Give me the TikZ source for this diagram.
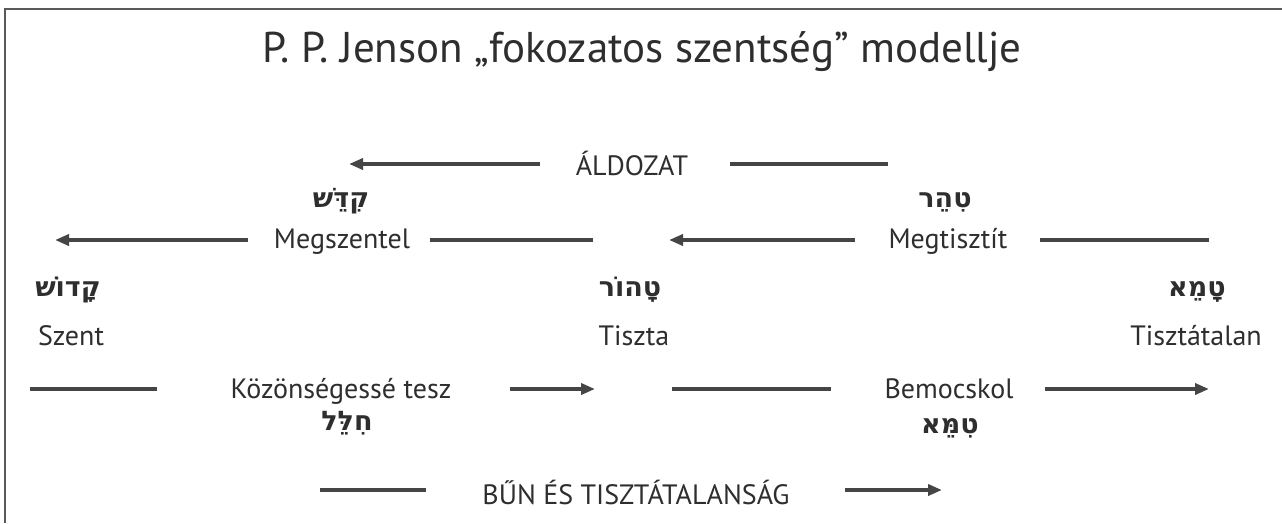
\documentclass[tikz,border=0pt]{standalone}
\usepackage{fontspec}
\setmainfont{PT Sans}
\newfontfamily\hebfont[Script=Hebrew]{DejaVu Sans Bold}
\TeXXeTstate=1
\usetikzlibrary{arrows.meta}
\definecolor{ink}{HTML}{2E2E2E}
\definecolor{linec}{HTML}{454545}
\tikzset{
  lbl/.style={inner sep=0pt, text=ink, font=\fontsize{28}{32}\selectfont, anchor=base},
  heb/.style={inner sep=0pt, text=ink, font=\hebfont\fontsize{27}{30}\selectfont, anchor=base},
  bar/.style={draw=linec, line width=3.6pt},
  arr/.style={bar, -{Triangle[length=14pt,width=11pt]}},
}
\begin{document}
\begin{tikzpicture}[x=1pt,y=-1pt]
\useasboundingbox (0,0) rectangle (1282,523);
\fill[white] (0,0) rectangle (1282,523);
% frame
\draw[draw=gray!70!black, line width=2.2pt] (5,523) -- (5,9) -- (1282,9);
% title
\node[lbl, font=\fontsize{43}{48}\selectfont] (title) at (642,62) {P. P. Jenson „fokozatos szentség” modellje};
% row 1
\node[lbl] (aldozat) at (632,175) {ÁLDOZAT};
\coordinate (a1s) at (540,164); \coordinate (a1e) at (349,164);
\coordinate (a2s) at (730,164); \coordinate (a2e) at (888,164);
\draw[arr] (a1s) -- (a1e);
\draw[bar] (a2s) -- (a2e);
% row 2 hebrew
\node[heb] (qiddesh) at (341,207) {\beginR קִדֵּשׁ\endR};
\node[heb] (tiher) at (945,207) {\beginR טִהֵר\endR};
% row 2
\node[lbl] (megszentel) at (342,248) {Megszentel};
\node[lbl] (megtisztit) at (948,248) {Megtisztít};
\coordinate (b1s) at (248,240); \coordinate (b1e) at (55,240);
\coordinate (b2s) at (430,240); \coordinate (b2e) at (593,240);
\coordinate (b3s) at (855,240); \coordinate (b3e) at (669,240);
\coordinate (b4s) at (1040,240); \coordinate (b4e) at (1209,240);
\draw[arr] (b1s) -- (b1e);
\draw[bar] (b2s) -- (b2e);
\draw[arr] (b3s) -- (b3e);
\draw[bar] (b4s) -- (b4e);
% states
\node[heb] (qadosh) at (68,296) {\beginR קָדוֹשׁ\endR};
\node[heb] (tahor) at (630,296) {\beginR טָהוֹר\endR};
\node[heb] (tame) at (1197,296) {\beginR טָמֵא\endR};
\node[lbl] (szent) at (71,345) {Szent};
\node[lbl] (tiszta) at (634,345) {Tiszta};
\node[lbl] (tisztatalan) at (1196,345) {Tisztátalan};
% row 5
\node[lbl] (kozonseges) at (341,398) {Közönségessé tesz};
\node[lbl] (bemocskol) at (949,398) {Bemocskol};
\coordinate (c1s) at (30,389); \coordinate (c1e) at (157,389);
\coordinate (c2s) at (510,389); \coordinate (c2e) at (595,389);
\coordinate (c3s) at (672,389); \coordinate (c3e) at (831,389);
\coordinate (c4s) at (1045,389); \coordinate (c4e) at (1209,389);
\draw[bar] (c1s) -- (c1e);
\draw[arr] (c2s) -- (c2e);
\draw[bar] (c3s) -- (c3e);
\draw[arr] (c4s) -- (c4e);
% row 6 hebrew
\node[heb] (hillel) at (347,430) {\beginR חִלֵּל\endR};
\node[heb] (timme) at (950,433) {\beginR טִמֵּא\endR};
% row 7
\node[lbl] (bun) at (636,504) {BŰN ÉS TISZTÁTALANSÁG};
\coordinate (d1s) at (320,490); \coordinate (d1e) at (426,490);
\coordinate (d2s) at (845,490); \coordinate (d2e) at (942,490);
\draw[bar] (d1s) -- (d1e);
\draw[arr] (d2s) -- (d2e);
\end{tikzpicture}
\end{document}
